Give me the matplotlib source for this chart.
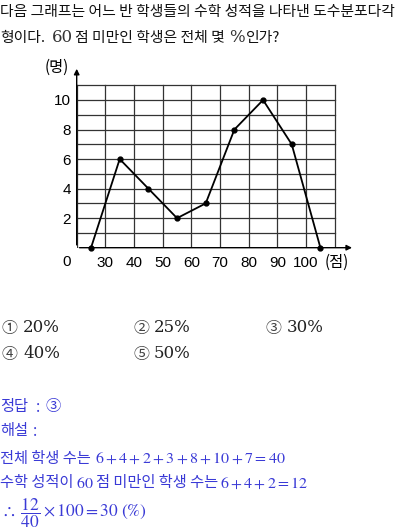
import matplotlib
matplotlib.use("Agg")
import matplotlib.pyplot as plt

plt.rcParams['font.family'] = ['Noto Sans CJK KR', 'DejaVu Sans']
plt.rcParams['mathtext.fontset'] = 'stix'

# data
classes = [25, 35, 45, 55, 65, 75, 85, 95, 105]
counts = [0, 6, 4, 2, 3, 8, 10, 7, 0]
xticks = [30, 40, 50, 60, 70, 80, 90, 100]
yticks = [2, 4, 6, 8, 10]
question1 = "다음 그래프는 어느 반 학생들의 수학 성적을 나타낸 도수분포다각"
question2_parts = ["형이다.", "60", "점 미만인 학생은 전체 몇", "%", "인가?"]
options = [("①", "20%"), ("②", "25%"), ("③", "30%"), ("④", "40%"), ("⑤", "50%")]

W, H = 400, 531
fig = plt.figure(figsize=(W/100, H/100), dpi=100)
renderer = fig.canvas.get_renderer()

def fx(x): return x / W
def fy(y): return 1 - y / H

# axes placement (pixels)
x0, xmin, xmax = 76.7, 20, 117
y0, ymax = 247.7, 12.3
pxx = 2.867   # px per data unit in x
pxy = 14.77   # px per unit in y
ax = fig.add_axes([fx(x0), fy(y0), (xmax - xmin) * pxx / W, ymax * pxy / H])
ax.set_xlim(xmin, xmax)
ax.set_ylim(0, ymax)
for s in ax.spines.values():
    s.set_visible(False)
ax.patch.set_alpha(0)

# grid
for gx in range(20, 111, 10):
    ax.plot([gx, gx], [0, 11], color='#333333', lw=0.9, zorder=1)
for gy in range(0, 12):
    ax.plot([20, 110], [gy, gy], color='#333333', lw=0.9, zorder=1)

# axes arrows
ax.annotate('', xy=(117, 0), xytext=(20, 0),
            arrowprops=dict(arrowstyle='-|>', color='black', lw=1.0, mutation_scale=8), annotation_clip=False)
ax.annotate('', xy=(20, 12.3), xytext=(20, 0),
            arrowprops=dict(arrowstyle='-|>', color='black', lw=1.0, mutation_scale=8), annotation_clip=False)

ax.plot(classes, counts, color='black', lw=1.3, marker='o', ms=3.5, zorder=3, clip_on=False)

ax.set_xticks(xticks)
ax.set_xticklabels([str(t) for t in xticks], fontsize=11, family='Liberation Sans')
ax.set_yticks(yticks)
ax.set_yticklabels([str(t) for t in yticks], fontsize=11, family='Liberation Sans')
ax.tick_params(length=0, pad=6)
ax.tick_params(axis='y', pad=4)

fig.text(fx(66.5), fy(262.5), "0", fontsize=11, family='Liberation Sans', ha='center', va='center')
fig.text(fx(337), fy(262), "(점)", fontsize=11, ha='center', va='center')
fig.text(fx(57), fy(67), "(명)", fontsize=11, ha='center', va='center')

# question text
fig.text(fx(0), fy(12), question1, fontsize=10.7, ha='left', va='center', color='#111111')

def place_seq(parts, y, x_start, gaps):
    x = x_start
    for (txt, kw), gap in zip(parts, gaps):
        t = fig.text(fx(x), fy(y), txt, ha='left', va='center', **kw)
        bb = t.get_window_extent(renderer=renderer)
        x = bb.x1 + gap

kor = dict(fontsize=10.7, color='#111111')
ser = dict(fontsize=12, family='DejaVu Serif', color='#333333')
place_seq([(question2_parts[0], kor), (question2_parts[1], ser), (question2_parts[2], kor),
           (question2_parts[3], ser), (question2_parts[4], kor)],
          38, 0, [7, 2, 4, 1, 0])

# options
opt_pos = [(2, 328), (133, 328), (266, 328), (2, 354), (133, 354)]
for (sym, val), (ox, oy) in zip(options, opt_pos):
    fig.text(fx(ox), fy(oy), sym, fontsize=11.5, ha='left', va='center', color='#444444')
    fig.text(fx(ox + 21), fy(oy), val, fontsize=12, family='DejaVu Serif', ha='left', va='center', color='#222222')

blue = '#3a3ad6'
fig.text(fx(0), fy(407), "정답", fontsize=11, ha='left', va='center', color=blue)
fig.text(fx(38), fy(407), ":", fontsize=11, ha='center', va='center', color=blue)
fig.text(fx(45), fy(407), "③", fontsize=11, ha='left', va='center', color=blue)
fig.text(fx(0), fy(431), "해설", fontsize=11, ha='left', va='center', color=blue)
fig.text(fx(35), fy(431), ":", fontsize=11, ha='center', va='center', color=blue)
fig.text(fx(0), fy(458), "전체 학생 수는", fontsize=11, ha='left', va='center', color=blue)
fig.text(fx(95), fy(458), r"$6+4+2+3+8+10+7=40$", fontsize=11.5, ha='left', va='center', color=blue)
fig.text(fx(0), fy(483), "수학 성적이", fontsize=11, ha='left', va='center', color=blue)
fig.text(fx(76), fy(483), r"$60$", fontsize=11.5, ha='left', va='center', color=blue)
fig.text(fx(96), fy(483), "점 미만인 학생 수는", fontsize=11, ha='left', va='center', color=blue)
fig.text(fx(220), fy(483), r"$6+4+2=12$", fontsize=11.5, ha='left', va='center', color=blue)
fig.text(fx(1), fy(513), r"$\therefore\ \dfrac{12}{40}\times100=30\ (\%)$", fontsize=12.5, ha='left', va='center', color=blue)

fig.savefig("out.png", dpi=100)
